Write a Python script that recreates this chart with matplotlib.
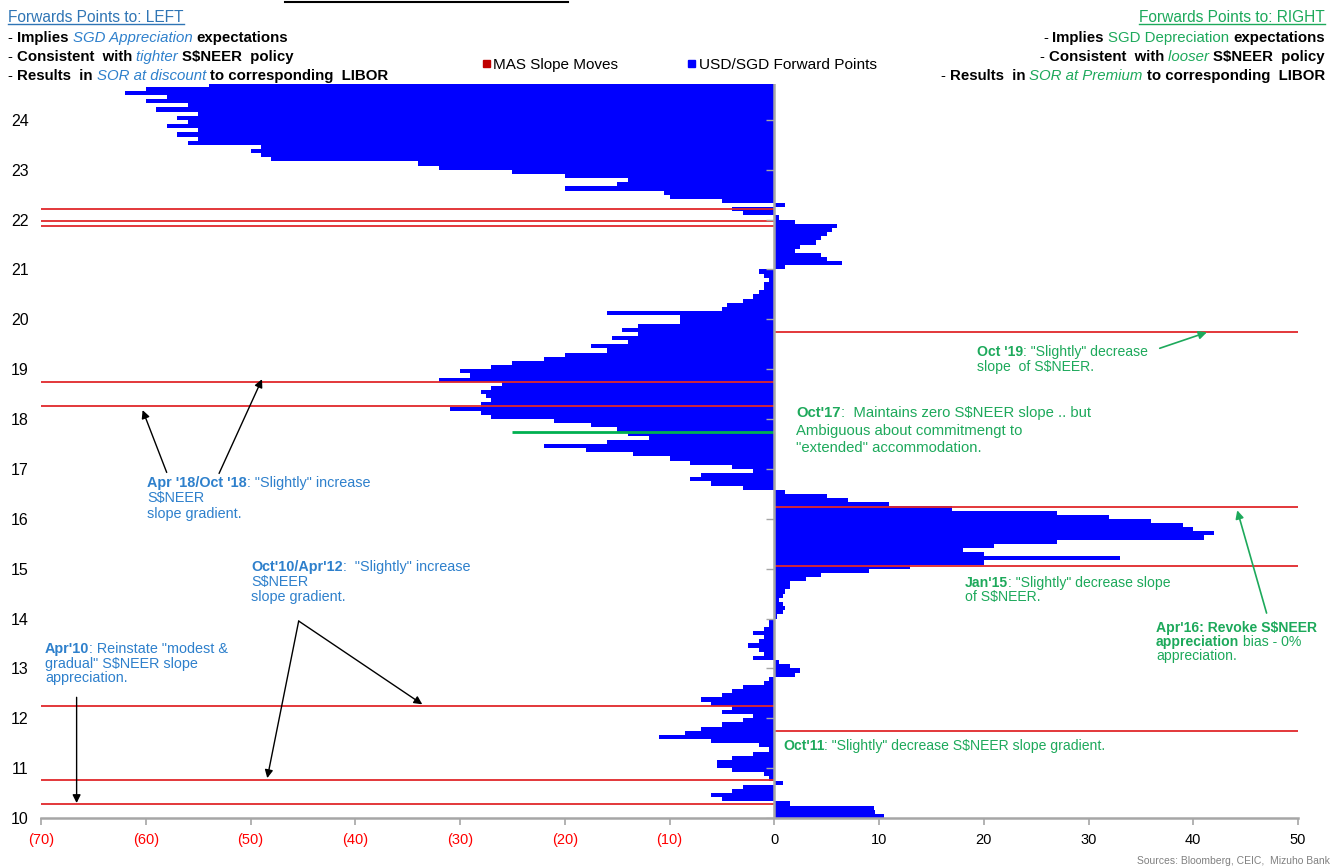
import numpy as np
import matplotlib
matplotlib.use('Agg')
import matplotlib.pyplot as plt
from matplotlib.lines import Line2D
from matplotlib.patches import Rectangle

plt.rcParams['font.family'] = ['Liberation Sans', 'DejaVu Sans']

# USD/SGD forward points, monthly from Jan 2010 (10 = 2010 on the y axis)
fwd_2010 = [10.5, 9.6, 9.5, 1.5, -5.0, -6.0, -4.0, -3.0, 0.8, -0.5, -1.0, -4.0]
fwd_2011 = [-5.5, -5.5, -4.0, -2.0, -0.5, -1.5, -6.0, -11.0, -8.5, -7.0, -5.0, -3.0]
fwd_2012 = [-2.0, -5.0, -4.0, -6.0, -7.0, -5.0, -4.0, -3.0, -1.0, -0.5, 2.0, 2.5]
fwd_2013 = [1.5, 0.5, -2.0, -1.0, -1.5, -2.5, -1.5, -1.0, -2.0, -1.0, -0.5, -0.5]
fwd_2014 = [0.3, 0.8, 1.0, 0.8, 0.5, 0.8, 1.0, 1.5, 1.5, 3.0, 4.5, 9.0]
fwd_2015 = [13.0, 20.0, 33.0, 20.0, 18.0, 21.0, 27.0, 41.0, 42.0, 40.0, 39.0, 36.0]
fwd_2016 = [32.0, 27.0, 17.0, 11.0, 7.0, 5.0, 1.0, -3.0, -6.0, -8.0, -7.0, -2.0]
fwd_2017 = [-4.0, -8.0, -10.0, -13.5, -18.0, -22.0, -16.0, -12.0, -14.0, -15.0, -17.5, -21.0]
fwd_2018 = [-27.0, -28.0, -31.0, -28.0, -27.0, -27.5, -28.0, -27.0, -26.0, -32.0, -29.0, -30.0]
fwd_2019 = [-27.0, -25.0, -22.0, -20.0, -16.0, -17.5, -14.0, -15.5, -13.0, -14.5, -13.0, -9.0]
fwd_2020 = [-9.0, -16.0, -5.0, -4.5, -3.0, -2.0, -1.5, -1.0, -1.0, -0.5, -1.0, -1.5]
fwd_2021 = [1.0, 6.5, 5.0, 4.5, 2.0, 2.5, 4.0, 4.5, 5.0, 5.5, 6.0, 2.0]
fwd_2022 = [0.5, -3.0, -4.0, 1.0, -5.0, -10.0, -10.5, -20.0, -15.0, -14.0, -20.0, -25.0]
fwd_2023 = [-32.0, -34.0, -48.0, -49.0, -50.0, -49.0, -56.0, -55.0, -57.0, -55.0, -58.0, -56.0]
fwd_2024 = [-57.0, -55.0, -59.0, -56.0, -60.0, -58.0, -62.0, -60.0, -54.0]

fwd_points = np.array(fwd_2010 + fwd_2011 + fwd_2012 + fwd_2013 + fwd_2014 + fwd_2015 +
                      fwd_2016 + fwd_2017 + fwd_2018 + fwd_2019 + fwd_2020 + fwd_2021 +
                      fwd_2022 + fwd_2023 + fwd_2024)
months = 10 + (np.arange(len(fwd_points)) + 0.5) / 12

# MAS slope moves (year on the same axis)
mas_tighter = [10.28, 10.76, 12.24, 18.26, 18.74, 21.88, 21.97, 22.22]
mas_looser = [11.74, 15.05, 16.23, 19.74]
oct17_hold = 17.74

x_ticks = list(range(-70, 51, 10))
x_labels = ['(%d)' % -v if v < 0 else str(v) for v in x_ticks]
y_ticks = list(range(10, 25))

BAR_BLUE = '#0000FF'
LINE_RED = '#E0282B'
HEAD_BLUE = '#2F75B5'
TXT_BLUE = '#2E80CC'
TXT_GREEN = '#1DA95B'
GRAY = '#A6A6A6'

W, H = 1338, 868
fig = plt.figure(figsize=(W / 100, H / 100), dpi=100)
ax = fig.add_axes([41 / W, 1 - 818 / H, (1298 - 41) / W, (818 - 84) / H])

ax.barh(months, fwd_points, height=1 / 12, color=BAR_BLUE, linewidth=0, zorder=2)
ax.hlines(mas_tighter, -70, 0, color=LINE_RED, lw=1.3, zorder=3)
ax.hlines(mas_looser, 0, 50, color=LINE_RED, lw=1.3, zorder=3)
ax.hlines([oct17_hold], -25, 0, color='#00B050', lw=2, zorder=3)
ax.axvline(0, color=GRAY, lw=1.8, zorder=4)
ax.hlines(y_ticks, -0.8, 0, color=GRAY, lw=1, zorder=4)

ax.set_xlim(-70, 50)
ax.set_ylim(10, 24.72)
for s in ['top', 'right', 'left']:
    ax.spines[s].set_visible(False)
ax.spines['bottom'].set_color(GRAY)
ax.spines['bottom'].set_linewidth(1.8)
ax.set_xticks(x_ticks)
ax.set_xticklabels(x_labels, fontsize=10.5)
for lab, v in zip(ax.get_xticklabels(), x_ticks):
    lab.set_color('#FF0000' if v < 0 else 'black')
ax.tick_params(axis='x', color=GRAY, length=5, width=1.2, pad=6)
ax.set_yticks(y_ticks)
ax.set_yticklabels([str(v) for v in y_ticks], fontsize=11.5)
ax.tick_params(axis='y', length=0, pad=9)

renderer = fig.canvas.get_renderer()


def text_width(s, size, kw):
    t = fig.text(0, 0, 'x' + s + 'x', size=size, parse_math=False, **kw)
    w = t.get_window_extent(renderer).width
    t.remove()
    t = fig.text(0, 0, 'xx', size=size, parse_math=False, **kw)
    w -= t.get_window_extent(renderer).width
    t.remove()
    return w


def rich(x, y, pieces, size=10, ha='left', underline=None):
    # x, y in pixels from the top-left corner, y is the baseline
    widths = [text_width(s, size, kw) for s, kw in pieces]
    if ha == 'right':
        x = x - sum(widths)
    x0 = x
    for (s, kw), w in zip(pieces, widths):
        fig.text(x / W, 1 - y / H, s, size=size, va='baseline', ha='left', parse_math=False, **kw)
        x += w
    if underline:
        fig.add_artist(Line2D([x0 / W, x / W], [1 - (y + 2) / H] * 2,
                              transform=fig.transFigure, color=underline, lw=1))


bold = dict(weight='bold', color='black')
reg = dict(color='black')
HS = 10.8   # header text size
BS = 10.4   # blue notes
GS = 10.1   # green notes

# left header
rich(8, 22, [('Forwards Points to: LEFT', dict(color=HEAD_BLUE))], size=11.2, underline=HEAD_BLUE)
rich(8, 42, [('- ', reg), ('Implies ', bold), ('SGD Appreciation ', dict(color=TXT_BLUE, style='italic')),
             ('expectations', bold)], size=HS)
rich(8, 61, [('- ', reg), ('Consistent  with ', bold), ('tighter ', dict(color=TXT_BLUE, style='italic')),
             ('S$NEER  policy', bold)], size=HS)
rich(8, 80, [('- ', reg), ('Results  in ', bold), ('SOR at discount ', dict(color=TXT_BLUE, style='italic')),
             ('to corresponding  LIBOR', bold)], size=HS)

# right header
rich(1325, 22, [('Forwards Points to: RIGHT', dict(color=TXT_GREEN))], size=11.2, ha='right',
     underline=TXT_GREEN)
rich(1325, 42, [('- ', reg), ('Implies ', bold), ('SGD Depreciation ', dict(color=TXT_GREEN)),
                ('expectations', bold)], size=HS, ha='right')
rich(1325, 61, [('- ', reg), ('Consistent  with ', bold), ('looser ', dict(color=TXT_GREEN, style='italic')),
                ('S$NEER  policy', bold)], size=HS, ha='right')
rich(1325, 80, [('- ', reg), ('Results  in ', bold), ('SOR at Premium ', dict(color=TXT_GREEN, style='italic')),
                ('to corresponding  LIBOR', bold)], size=HS, ha='right')

# legend
fig.add_artist(Rectangle((483 / W, 1 - 67 / H), 7 / W, 7 / H, transform=fig.transFigure, color='#C00000'))
rich(493, 69, [('MAS Slope Moves', reg)], size=11)
fig.add_artist(Rectangle((688 / W, 1 - 67 / H), 7 / W, 7 / H, transform=fig.transFigure, color=BAR_BLUE))
rich(699, 69, [('USD/SGD Forward Points', reg)], size=11.1)

fig.add_artist(Line2D([285 / W, 568 / W], [1 - 1.5 / H] * 2, transform=fig.transFigure, color='black', lw=1.5))

# annotations
bb = dict(weight='bold', color=TXT_BLUE)
bl = dict(color=TXT_BLUE)
gb = dict(weight='bold', color=TXT_GREEN)
gr = dict(color=TXT_GREEN)

rich(147, 487, [("Apr '18/Oct '18", bb), (': "Slightly" increase', bl)], size=BS)
rich(147, 502, [('S$NEER', bl)], size=BS)
rich(147, 518, [('slope gradient.', bl)], size=BS)

rich(251, 571, [("Oct'10/Apr'12", bb), (':  "Slightly" increase', bl)], size=BS)
rich(251, 586, [('S$NEER', bl)], size=BS)
rich(251, 601, [('slope gradient.', bl)], size=BS)

rich(45, 653, [("Apr'10", bb), (': Reinstate "modest &', bl)], size=BS)
rich(45, 668, [('gradual" S$NEER slope', bl)], size=BS)
rich(45, 682, [('appreciation.', bl)], size=BS)

rich(977, 356, [("Oct '19", gb), (': "Slightly" decrease', gr)], size=GS)
rich(977, 371, [('slope  of S$NEER.', gr)], size=GS)

rich(796, 417, [("Oct'17", gb), (':  Maintains zero S$NEER slope .. but', gr)], size=10.7)
rich(796, 435, [('Ambiguous about commitmengt to', gr)], size=10.7)
rich(796, 452, [('"extended" accommodation.', gr)], size=10.7)

rich(965, 587, [("Jan'15", gb), (': "Slightly" decrease slope', gr)], size=GS)
rich(965, 601, [('of S$NEER.', gr)], size=GS)

rich(1156, 632, [("Apr'16: Revoke S$NEER", gb)], size=GS)
rich(1156, 646, [('appreciation', gb), (' bias - 0%', gr)], size=GS)
rich(1156, 660, [('appreciation.', gr)], size=GS)

rich(783, 750, [("Oct'11", gb), (': "Slightly" decrease S$NEER slope gradient.', gr)], size=GS)

arrow_k = dict(arrowstyle='-|>', color='black', lw=1, mutation_scale=12, shrinkA=0, shrinkB=0)
arrow_g = dict(arrowstyle='-|>', color=TXT_GREEN, lw=1.2, mutation_scale=12, shrinkA=0, shrinkB=0)
ax.annotate('', xy=(-60.3, 18.18), xytext=(-58.0, 16.93), arrowprops=arrow_k)
ax.annotate('', xy=(-48.9, 18.80), xytext=(-53.0, 16.91), arrowprops=arrow_k)
ax.annotate('', xy=(-48.4, 10.80), xytext=(-45.4, 13.95), arrowprops=arrow_k)
ax.annotate('', xy=(-33.6, 12.28), xytext=(-45.4, 13.95), arrowprops=arrow_k)
ax.annotate('', xy=(-66.6, 10.30), xytext=(-66.6, 12.42), arrowprops=arrow_k)
ax.annotate('', xy=(41.3, 19.74), xytext=(36.8, 19.42), arrowprops=arrow_g)
ax.annotate('', xy=(44.2, 16.17), xytext=(47.0, 14.11), arrowprops=arrow_g)

fig.text(1330 / W, 1 - 864 / H, 'Sources: Bloomberg, CEIC,  Mizuho Bank', ha='right', va='baseline',
         size=7.5, color='#808080')

fig.savefig('out.png', dpi=100)
